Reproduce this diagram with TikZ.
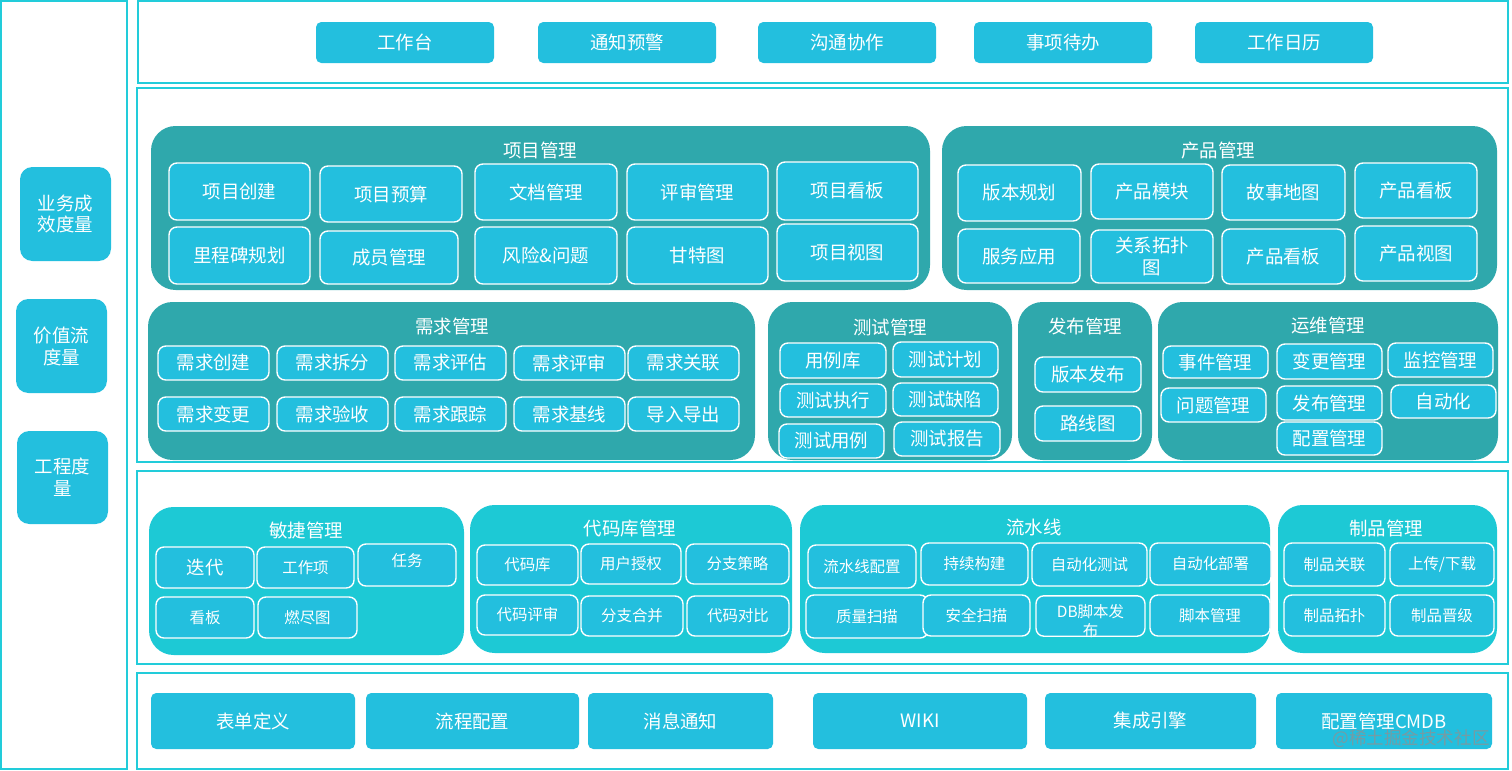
\documentclass[tikz,border=0pt]{standalone}
\usepackage{fontspec}
\setmainfont{Noto Sans CJK SC}
\definecolor{framec}{HTML}{22CCDA}
\definecolor{boxc}  {HTML}{23BFDE}
\definecolor{tealc} {HTML}{2FA8AC}
\definecolor{cyanc} {HTML}{1DC9D5}
\definecolor{wmc}   {HTML}{8A9396}

\begin{document}
\begin{tikzpicture}[
  x=0.02cm, y=-0.02cm,
  font=\fontsize{10.5}{12.5}\selectfont,
  area/.style n args={4}{minimum width={(#3-#1)*0.02cm}, minimum height={(#4-#2)*0.02cm},
                         at={({(#1+#3)/2},{(#2+#4)/2})}},
  frm/.style={draw=framec, line width=1.1pt, inner sep=0pt},
  tag/.style={fill=boxc, rounded corners=7pt, text=white, align=center, inner sep=0pt},
  bar/.style={fill=boxc, rounded corners=3pt, text=white, inner sep=0pt},
  grp/.style={fill=tealc, rounded corners=14pt, inner sep=0pt},
  grq/.style={fill=cyanc, rounded corners=14pt, inner sep=0pt},
  itm/.style={fill=boxc, draw=white, line width=0.8pt, rounded corners=4.5pt,
              text=white, align=center, inner sep=0pt},
  ttl/.style={text=white},
  sml/.style={font=\fontsize{8.8}{10.5}\selectfont}
]
\useasboundingbox (0,0) rectangle (1512,771);

% layers
\node[frm, area={1}{1}{127}{769}] (lcol) {};
\node[frm, area={138}{1}{1508}{83}] (lay1) {};
\node[frm, area={137}{88}{1508}{462}] (lay2) {};
\node[frm, area={137}{471}{1508}{664}] (lay3) {};
\node[frm, area={137}{673}{1508}{769}] (lay4) {};

% metrics
\node[tag, area={20}{167}{111}{261}] (ywcx) {业务成\\效度量};
\node[tag, area={16}{299}{107}{393}] (jzl) {价值流\\度量};
\node[tag, area={17}{431}{108}{524}] (gcd) {工程度\\量};

% top bar
\node[bar, area={316}{22}{494}{63}] (gzt) {工作台};
\node[bar, area={538}{22}{716}{63}] (tzyj) {通知预警};
\node[bar, area={758}{22}{936}{63}] (gtxz) {沟通协作};
\node[bar, area={974}{22}{1152}{63}] (sxdb) {事项待办};
\node[bar, area={1195}{22}{1373}{63}] (gzrl) {工作日历};

% project management
\node[grp, area={151}{126}{930}{290}] (xmgl) {};
\node[ttl] (xmglt) at (540,150) {项目管理};
\node[itm, area={169}{163}{310}{220}] (xm1) {项目创建};
\node[itm, area={320}{166}{462}{222}] (xm2) {项目预算};
\node[itm, area={475}{164}{617}{220}] (xm3) {文档管理};
\node[itm, area={627}{164}{768}{220}] (xm4) {评审管理};
\node[itm, area={777}{162}{918}{220}] (xm5) {项目看板};
\node[itm, area={169}{227}{310}{284}] (xm6) {里程碑规划};
\node[itm, area={320}{231}{458}{284}] (xm7) {成员管理};
\node[itm, area={475}{227}{617}{284}] (xm8) {风险\&问题};
\node[itm, area={627}{227}{768}{284}] (xm9) {甘特图};
\node[itm, area={777}{224}{918}{281}] (xm10) {项目视图};

% product management
\node[grp, area={942}{126}{1497}{290}] (cpgl) {};
\node[ttl] (cpglt) at (1218,151) {产品管理};
\node[itm, area={958}{165}{1081}{221}] (cp1) {版本规划};
\node[itm, area={1091}{164}{1213}{219}] (cp2) {产品模块};
\node[itm, area={1222}{165}{1345}{220}] (cp3) {故事地图};
\node[itm, area={1355}{163}{1477}{218}] (cp4) {产品看板};
\node[itm, area={958}{229}{1080}{283}] (cp5) {服务应用};
\node[itm, area={1091}{230}{1213}{283}] (cp6) {关系拓扑\\图};
\node[itm, area={1222}{229}{1345}{284}] (cp7) {产品看板};
\node[itm, area={1355}{226}{1477}{281}] (cp8) {产品视图};

% requirements
\node[grp, area={148}{302}{755}{460}] (xqgl) {};
\node[ttl] (xqglt) at (452,326) {需求管理};
\node[itm, area={158}{346}{269}{380}] (xq1) {需求创建};
\node[itm, area={277}{346}{388}{380}] (xq2) {需求拆分};
\node[itm, area={395}{346}{506}{380}] (xq3) {需求评估};
\node[itm, area={514}{346}{625}{380}] (xq4) {需求评审};
\node[itm, area={628}{346}{739}{380}] (xq5) {需求关联};
\node[itm, area={158}{397}{269}{431}] (xq6) {需求变更};
\node[itm, area={277}{397}{388}{431}] (xq7) {需求验收};
\node[itm, area={395}{397}{506}{431}] (xq8) {需求跟踪};
\node[itm, area={514}{397}{625}{431}] (xq9) {需求基线};
\node[itm, area={628}{397}{739}{431}] (xq10) {导入导出};

% testing
\node[grp, area={768}{302}{1012}{460}] (csgl) {};
\node[ttl] (csglt) at (890,327) {测试管理};
\node[itm, area={780}{343}{886}{378}] (cs1) {用例库};
\node[itm, area={893}{342}{998}{377}] (cs2) {测试计划};
\node[itm, area={780}{384}{886}{417}] (cs3) {测试执行};
\node[itm, area={893}{383}{998}{416}] (cs4) {测试缺陷};
\node[itm, area={779}{424}{884}{458}] (cs5) {测试用例};
\node[itm, area={894}{422}{1000}{456}] (cs6) {测试报告};

% release
\node[grp, area={1018}{302}{1152}{460}] (fbgl) {};
\node[ttl] (fbglt) at (1085,326) {发布管理};
\node[itm, area={1035}{357}{1141}{392}] (fb1) {版本发布};
\node[itm, area={1035}{406}{1141}{441}] (fb2) {路线图};

% operations
\node[grp, area={1158}{302}{1498}{460}] (ywgl) {};
\node[ttl] (ywglt) at (1328,325) {运维管理};
\node[itm, area={1163}{346}{1268}{378}] (yw1) {事件管理};
\node[itm, area={1277}{344}{1382}{379}] (yw2) {变更管理};
\node[itm, area={1388}{343}{1493}{377}] (yw3) {监控管理};
\node[itm, area={1161}{388}{1266}{422}] (yw4) {问题管理};
\node[itm, area={1277}{386}{1382}{420}] (yw5) {发布管理};
\node[itm, area={1391}{385}{1496}{418}] (yw6) {自动化};
\node[itm, area={1277}{422}{1382}{455}] (yw7) {配置管理};

% agile
\node[grq, area={149}{507}{464}{655}] (mjgl) {};
\node[ttl] (mjglt) at (306,530) {敏捷管理};
\node[itm, area={156}{547}{254}{588}] (mj1) {迭代};
\node[itm, sml, area={257}{547}{354}{588}] (mj2) {工作项};
\node[itm, sml, area={358}{544}{456}{586}, text depth=5.5pt] (mj3) {任务};
\node[itm, sml, area={156}{597}{254}{638}] (mj4) {看板};
\node[itm, sml, area={258}{597}{357}{638}] (mj5) {燃尽图};

% code repository
\node[grq, area={470}{505}{792}{653}] (dmgl) {};
\node[ttl] (dmglt) at (630,528) {代码库管理};
\node[itm, sml, area={477}{545}{578}{585}] (dm1) {代码库};
\node[itm, sml, area={581}{544}{681}{584}] (dm2) {用户授权};
\node[itm, sml, area={686}{544}{789}{584}] (dm3) {分支策略};
\node[itm, sml, area={477}{595}{578}{635}] (dm4) {代码评审};
\node[itm, sml, area={581}{596}{683}{636}] (dm5) {分支合并};
\node[itm, sml, area={687}{596}{789}{636}] (dm6) {代码对比};

% pipeline
\node[grq, area={800}{505}{1270}{653}] (lsx) {};
\node[ttl] (lsxt) at (1034,527) {流水线};
\node[itm, sml, area={808}{545}{916}{588}] (ls1) {流水线配置};
\node[itm, sml, area={921}{543}{1028}{585}] (ls2) {持续构建};
\node[itm, sml, area={1032}{543}{1147}{586}] (ls3) {自动化测试};
\node[itm, sml, area={1150}{543}{1271}{585}] (ls4) {自动化部署};
\node[itm, sml, area={806}{595}{928}{638}] (ls5) {质量扫描};
\node[itm, sml, area={923}{595}{1030}{636}] (ls6) {安全扫描};
\node[itm, sml, area={1036}{596}{1145}{636}, text height=23pt, text depth=-1pt] (ls7) {DB脚本发\\布};
\node[itm, sml, area={1150}{595}{1270}{636}] (ls8) {脚本管理};

% artifacts
\node[grq, area={1278}{505}{1497}{653}] (zpgl) {};
\node[ttl] (zpglt) at (1386,528) {制品管理};
\node[itm, sml, area={1284}{543}{1385}{586}] (zp1) {制品关联};
\node[itm, sml, area={1390}{543}{1494}{586}] (zp2) {上传/下载};
\node[itm, sml, area={1284}{595}{1385}{636}] (zp3) {制品拓扑};
\node[itm, sml, area={1390}{595}{1494}{636}] (zp4) {制品晋级};

% base services
\node[bar, area={151}{693}{355}{749}] (bddy) {表单定义};
\node[bar, area={366}{693}{579}{749}] (lcpz) {流程配置};
\node[bar, area={588}{693}{773}{749}] (xxtz) {消息通知};
\node[bar, area={813}{693}{1027}{749}] (wiki) {WIKI};
\node[bar, area={1045}{693}{1256}{749}] (jcyq) {集成引擎};
\node[bar, area={1276}{693}{1492}{749}] (cmdb) {配置管理CMDB};

\node[text=wmc, opacity=0.8, font=\fontsize{10}{12}\selectfont] (wmk) at (1411,739) {@稀土掘金技术社区};
\end{tikzpicture}
\end{document}
